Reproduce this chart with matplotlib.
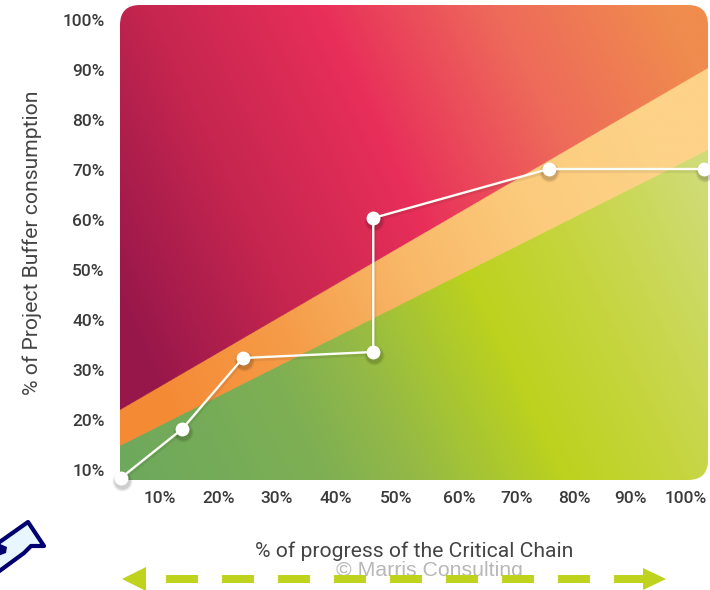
import numpy as np
import matplotlib
matplotlib.use("Agg")
import matplotlib.pyplot as plt
from matplotlib.colors import LinearSegmentedColormap
from matplotlib.patches import Polygon, PathPatch, Rectangle
from matplotlib.path import Path

# Datos de la curva de consumo del buffer
progreso = [3.3, 13.8, 24.2, 46.5, 46.5, 76.5, 103.2]
consumo = [8.4, 18.2, 32.4, 33.6, 60.4, 70.2, 70.2]

# Limites de las zonas (valor en los extremos del eje x)
zona_alta = [22.0, 90.4]
zona_baja = [14.8, 74.0]

x_lim = [3.15, 103.8]
y_lim = [8.0, 103.0]

x_ticks = [10, 20, 30, 40, 50.5, 61.3, 71, 80.9, 90.5, 100]
x_labels = ["10%", "20%", "30%", "40%", "50%", "60%", "70%", "80%", "90%", "100%"]
y_ticks = [10, 20, 30, 40, 50, 60, 70, 80, 90, 100]
y_labels = ["10%", "20%", "30%", "40%", "50%", "60%", "70%", "80%", "90%", "100%"]

rojo = [(0, "#97174a"), (0.25, "#c6264f"), (0.5, "#e82f5a"), (0.75, "#ee6a5a"), (1, "#f08c4e")]
medio = [(0, "#f58a35"), (0.25, "#f59c48"), (0.5, "#f8b868"), (0.75, "#fccb7c"), (1, "#fdd388")]
verde = [(0, "#6ea95c"), (0.26, "#7eaf54"), (0.38, "#92b848"), (0.6, "#bcd21e"),
         (0.77, "#c6d540"), (1, "#d0dc78")]

TEXTO = "#3a3a3a"
LIMA = "#bed21e"

fig = plt.figure(figsize=(7.1, 5.9), dpi=100)
ax = fig.add_axes([120 / 710, 110 / 590, 588 / 710, 475 / 590])
ax.set_xlim(x_lim)
ax.set_ylim(y_lim)

# Fondo con degradado: cada zona tiene su propio mapa de color
xx, yy = np.meshgrid(np.linspace(x_lim[0], x_lim[1], 1400),
                     np.linspace(y_lim[0], y_lim[1], 1100))
t = ((xx - x_lim[0]) / (x_lim[1] - x_lim[0]) * 0.72
     + (yy - y_lim[0]) / (y_lim[1] - y_lim[0]) * 0.28)
f = (xx - x_lim[0]) / (x_lim[1] - x_lim[0])
alta = zona_alta[0] + (zona_alta[1] - zona_alta[0]) * f
baja = zona_baja[0] + (zona_baja[1] - zona_baja[0]) * f

img = np.zeros(xx.shape + (3,))
for colores, mask in [(rojo, yy >= alta),
                      (medio, (yy < alta) & (yy >= baja)),
                      (verde, yy < baja)]:
    cmap = LinearSegmentedColormap.from_list("zona", colores)
    if colores is rojo:
        valores = (t - 0.1) / 0.85
    elif colores is verde:
        valores = (t - 0.02) / 0.88
    else:
        valores = (t - 0.1) / 0.75
    img[mask] = cmap(np.clip(valores, 0, 1))[mask][:, :3]

fondo = ax.imshow(img, origin="lower", extent=x_lim + y_lim, aspect="auto",
                  interpolation="antialiased")

# Rectangulo con tres esquinas redondeadas (abajo a la izquierda es recta)
rx = 20 / 588
ry = 20 / 475
vertices = [(0, 0), (1 - rx, 0), (1, 0), (1, ry), (1, 1 - ry), (1, 1), (1 - rx, 1),
            (rx, 1), (0, 1), (0, 1 - ry), (0, 0)]
codigos = [Path.MOVETO, Path.LINETO, Path.CURVE3, Path.CURVE3, Path.LINETO, Path.CURVE3,
           Path.CURVE3, Path.LINETO, Path.CURVE3, Path.CURVE3, Path.CLOSEPOLY]
fondo.set_clip_path(PathPatch(Path(vertices, codigos), transform=ax.transAxes))

for s in ax.spines.values():
    s.set_visible(False)

# Sombra suave bajo la linea y los puntos
for ancho, alfa in [(4, 0.03), (3, 0.04)]:
    ax.plot(np.array(progreso) + 0.1, np.array(consumo) - 0.3, color="black", lw=ancho,
            alpha=alfa, clip_on=False, zorder=3, solid_capstyle="round")
for tam, alfa in [(14.5, 0.05), (13, 0.07), (11.5, 0.08)]:
    ax.plot(np.array(progreso) + 0.15, np.array(consumo) - 0.5, "o", color="black", ms=tam,
            mew=0, alpha=alfa, clip_on=False, zorder=3)

ax.plot(progreso, consumo, color="#fbfdf6", lw=1.7, clip_on=False, zorder=4)
ax.plot(progreso, consumo, "o", color="white", ms=10, mew=0, clip_on=False, zorder=5)

ax.set_xticks(x_ticks)
ax.set_xticklabels(x_labels)
ax.set_yticks(y_ticks)
ax.set_yticklabels(y_labels)
ax.tick_params(length=0, labelsize=12.5, labelcolor=TEXTO)
ax.tick_params(axis="x", pad=8)
ax.tick_params(axis="y", pad=11)
for lbl in ax.get_xticklabels() + ax.get_yticklabels():
    lbl.set_family("Roboto")
    lbl.set_fontweight("medium")

# Capa en pixeles para los textos y flechas de abajo
capa = fig.add_axes([0, 0, 1, 1], zorder=5)
capa.set_xlim(0, 710)
capa.set_ylim(590, 0)
capa.axis("off")

capa.text(414, 551, "% of progress of the Critical Chain", ha="center", va="center",
          fontsize=15.2, color="#444444", family="Roboto", zorder=0)
capa.text(32, 243, "% of Project Buffer consumption", ha="center", va="center",
          rotation=90, fontsize=15.2, color="#444444", family="Roboto")
capa.text(429, 571, "\u00a9 Marris Consulting", ha="center", va="center",
          fontsize=15.3, color="#b8b8b8", family="Liberation Sans", zorder=0)

# Flecha discontinua de doble punta
capa.add_patch(Polygon([(122, 579), (146, 567), (146, 591)], facecolor=LIMA, edgecolor="none"))
for x0 in range(166, 640, 56):
    ancho_tramo = 32 if x0 < 600 else 30
    capa.add_patch(Rectangle((x0, 575), ancho_tramo, 8, facecolor=LIMA, edgecolor="none"))
capa.add_patch(Polygon([(643, 568), (666, 579), (643, 590)], facecolor=LIMA, edgecolor="none"))

# Icono de la mano, cortado por el borde izquierdo
capa.add_patch(Polygon([(-6, 546), (28, 522), (44, 546), (31, 546), (24, 553), (-6, 575)],
                       closed=True, facecolor="#e8f6ff", edgecolor="#00006e", lw=3,
                       joinstyle="round"))
capa.add_patch(Polygon([(-2, 543), (7, 547), (6, 553), (-2, 556)], facecolor="#00006e",
                       edgecolor="none"))

fig.savefig("out.png", dpi=100)
